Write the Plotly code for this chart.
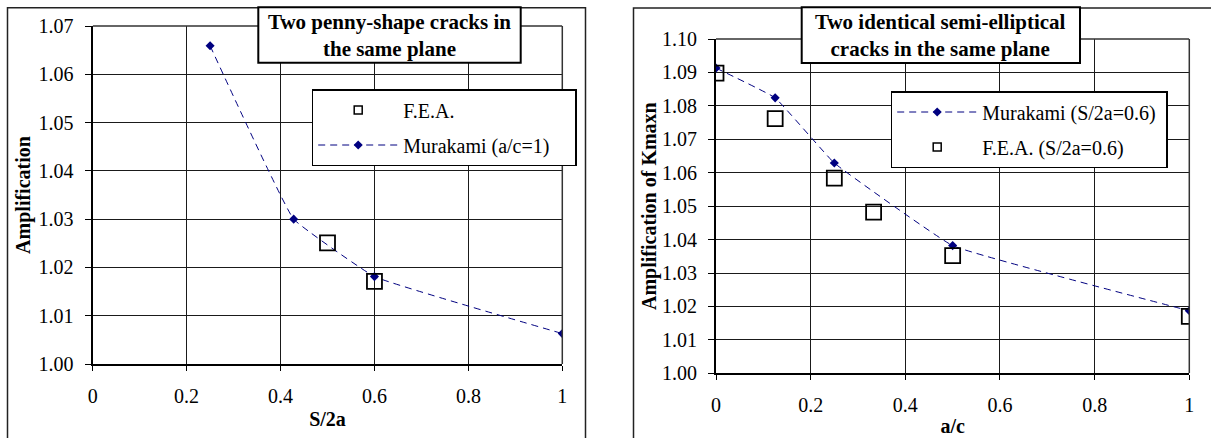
import plotly.graph_objects as go

# ---- data: two penny-shape cracks in the same plane ----
s2a_murakami = [0.25, 0.428, 0.6, 1.0]
amp_murakami = [1.0659, 1.0300, 1.0181, 1.0063]
s2a_fea = [0.5, 0.6]
amp_fea = [1.0251, 1.0171]

# ---- data: two identical semi-elliptical cracks in the same plane ----
ac_murakami = [0.0, 0.125, 0.25, 0.5, 1.0]
kmax_murakami = [1.0913, 1.0824, 1.0629, 1.0382, 1.0187]
ac_fea = [0.0, 0.125, 0.25, 0.333, 0.5, 1.0]
kmax_fea = [1.0898, 1.0762, 1.0584, 1.0482, 1.0352, 1.0170]

x_ticks = [0, 0.2, 0.4, 0.6, 0.8, 1]

W, H = 1211, 438
NAVY = "#000080"
FONT = "Liberation Serif"
NBSP = "\u00a0"


def px(x):
    return x / W


def py(y):
    return 1 - y / H


fig = go.Figure()

line_style = dict(color=NAVY, width=1, dash="7px,5px", shape="spline", smoothing=0.25)
diamond = dict(symbol="diamond", size=7, color=NAVY)
square = dict(symbol="square-open", size=15, color="black", line=dict(width=1.8, color="black"))

# left panel
fig.add_trace(go.Scatter(x=s2a_murakami, y=amp_murakami, mode="lines+markers",
                         line=line_style, marker=diamond, xaxis="x", yaxis="y",
                         showlegend=False))
fig.add_trace(go.Scatter(x=s2a_fea, y=amp_fea, mode="markers", marker=square,
                         xaxis="x", yaxis="y", showlegend=False))
# right panel
fig.add_trace(go.Scatter(x=ac_murakami, y=kmax_murakami, mode="lines+markers",
                         line=line_style, marker=diamond, xaxis="x2", yaxis="y2",
                         showlegend=False))
fig.add_trace(go.Scatter(x=ac_fea, y=kmax_fea, mode="markers", marker=square,
                         xaxis="x2", yaxis="y2", showlegend=False))

# legend entries (symbols only)
leg_sq = dict(symbol="square-open", size=8, color="black", line=dict(width=1.5, color="black"))
fig.add_trace(go.Scatter(x=[None], y=[None], mode="markers", marker=leg_sq,
                         name="F.E.A.", legend="legend", legendgroup="a"))
fig.add_trace(go.Scatter(x=[None], y=[None], mode="lines+markers", line=line_style,
                         marker=diamond, name="Murakami (a/c=1)" + NBSP * 4,
                         legend="legend", legendgroup="b"))
fig.add_trace(go.Scatter(x=[None], y=[None], mode="lines+markers", line=line_style,
                         marker=diamond, name="Murakami (S/2a=0.6)" + NBSP,
                         legend="legend2", legendgroup="c"))
fig.add_trace(go.Scatter(x=[None], y=[None], mode="markers", marker=leg_sq,
                         name="F.E.A. (S/2a=0.6)", legend="legend2", legendgroup="d"))

axis_common = dict(
    showline=True, linecolor="black", linewidth=1.5, mirror=False,
    showgrid=True, gridcolor="#1a1a1a", gridwidth=1,
    ticks="outside", ticklen=5, tickcolor="black", tickwidth=1,
    tickfont=dict(family=FONT, size=20, color="black"),
    zeroline=False, fixedrange=True, automargin=False,
)

legend_common = dict(
    bgcolor="white", bordercolor="black", borderwidth=1.5,
    font=dict(family=FONT, size=20, color="black"),
    xanchor="left", yanchor="top", tracegroupgap=6,
    traceorder="grouped", itemwidth=80,
)

fig.update_layout(
    width=W, height=H, margin=dict(l=0, r=0, t=0, b=0),
    paper_bgcolor="white", plot_bgcolor="white",
    font=dict(family=FONT, size=20, color="black"),
    xaxis=dict(axis_common, domain=[px(92.7), px(562.3)], range=[0, 1],
               tickvals=x_ticks, anchor="y", ticklabelstandoff=8,
               title=dict(text="<b>S/2a</b>", font=dict(family=FONT, size=20), standoff=6)),
    yaxis=dict(axis_common, domain=[py(364), py(26)], range=[1.0, 1.07], dtick=0.01,
               tickformat=".2f", anchor="x", linewidth=2.2, ticklen=6, ticklabelstandoff=7,
               title=dict(text="<b>Amplification</b>", font=dict(family=FONT, size=20), standoff=3)),
    xaxis2=dict(axis_common, domain=[px(716), px(1189.3)], range=[0, 1],
                tickvals=x_ticks, anchor="y2", ticklabelstandoff=8,
                title=dict(text="<b>a/c</b>", font=dict(family=FONT, size=20), standoff=4)),
    yaxis2=dict(axis_common, domain=[py(373.3), py(39)], range=[1.0, 1.10], dtick=0.01,
                tickformat=".2f", anchor="x2", linewidth=2.2, ticklen=6, ticklabelstandoff=7,
                title=dict(text="<b>Amplification of Kmaxn</b>", font=dict(family=FONT, size=20), standoff=0)),
    legend=dict(legend_common, x=px(311.7), y=py(89)),
    legend2=dict(legend_common, x=px(890.7), y=py(91)),
)

# plot-area top/right edges and outer chart frames
shapes = [
    dict(type="line", xref="x", yref="paper", x0=0, x1=1, y0=py(26), y1=py(26),
         line=dict(color="#333333", width=1.5)),
    dict(type="line", xref="paper", yref="y", x0=px(562.3), x1=px(562.3), y0=1.0, y1=1.07,
         line=dict(color="#333333", width=1.5)),
    dict(type="line", xref="x2", yref="paper", x0=0, x1=1, y0=py(39), y1=py(39),
         line=dict(color="#333333", width=1.5)),
    dict(type="line", xref="paper", yref="y2", x0=px(1189.3), x1=px(1189.3), y0=1.0, y1=1.10,
         line=dict(color="#333333", width=1.5)),
    dict(type="rect", xref="paper", yref="paper", x0=px(7.5), x1=px(585.5), y0=-0.05, y1=py(7.7),
         line=dict(color="#222222", width=1.5), layer="below"),
    dict(type="rect", xref="paper", yref="paper", x0=px(633.5), x1=1.05, y0=-0.05, y1=py(8),
         line=dict(color="#222222", width=1.5), layer="below"),
    # title boxes
    dict(type="rect", xref="paper", yref="paper", x0=px(258.3), x1=px(520.7), y0=py(62.7), y1=py(7.3),
         line=dict(color="black", width=2), fillcolor="white", layer="above"),
    dict(type="rect", xref="paper", yref="paper", x0=px(801.7), x1=px(1080), y0=py(63), y1=py(7.3),
         line=dict(color="black", width=2), fillcolor="white", layer="above"),
]
fig.update_layout(shapes=shapes)

title_font = dict(family=FONT, size=21, color="black")
fig.add_annotation(text="<b>Two penny-shape cracks in<br>the same plane</b>",
                   xref="paper", yref="paper", x=px(389.5), y=py(35), showarrow=False,
                   xanchor="center", yanchor="middle", font=title_font, align="center")
fig.add_annotation(text="<b>Two identical semi-elliptical<br>cracks in the same plane</b>",
                   xref="paper", yref="paper", x=px(940.8), y=py(35), showarrow=False,
                   xanchor="center", yanchor="middle", font=title_font, align="center")

fig.write_html("out.html")
